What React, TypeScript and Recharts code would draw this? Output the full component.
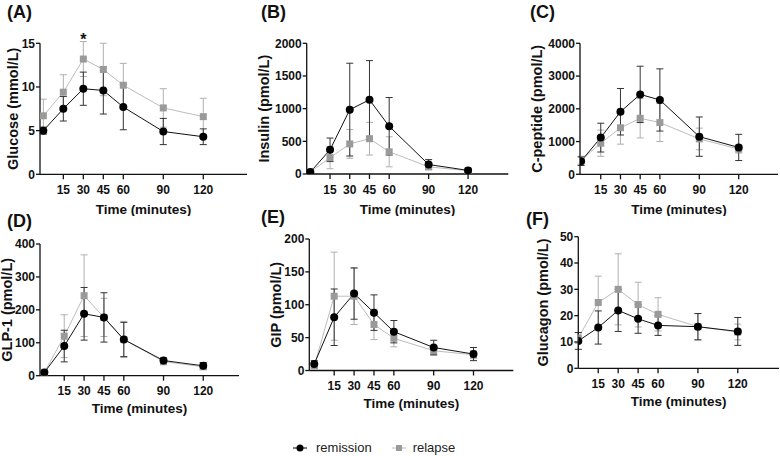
import React from "react";
import { LineChart, Line, XAxis, YAxis, ErrorBar, ReferenceDot } from "recharts";

const times = [0, 15, 30, 45, 60, 90, 120];
const timeTicks = [15, 30, 45, 60, 90, 120];

// (A) Glucose, mmol/L (mean, SD)
const glucoseRemission = [5.0, 7.5, 9.8, 9.6, 7.7, 4.9, 4.3];
const glucoseRemissionSd = [0.4, 1.4, 1.9, 2.7, 2.6, 1.5, 0.9];
const glucoseRelapse = [6.7, 9.4, 13.2, 12.0, 10.2, 7.6, 6.6];
const glucoseRelapseSd = [1.9, 2.0, 2.0, 3.0, 2.5, 2.2, 2.1];

// (B) Insulin, pmol/L
const insulinRemission = [30, 370, 985, 1135, 730, 145, 55];
const insulinRemissionSd = [15, 180, 710, 600, 440, 75, 25];
const insulinRelapse = [30, 250, 460, 540, 340, 110, 50];
const insulinRelapseSd = [15, 170, 220, 250, 230, 45, 20];

// (C) C-peptide, pmol/L
const cpepRemission = [400, 1120, 1910, 2440, 2270, 1150, 820];
const cpepRemissionSd = [130, 440, 710, 860, 950, 600, 400];
const cpepRelapse = [430, 950, 1420, 1710, 1580, 1080, 770];
const cpepRelapseSd = [120, 400, 500, 600, 580, 330, 120];

// (D) GLP-1, pmol/L
const glpRemission = [10, 90, 188, 177, 110, 46, 30];
const glpRemissionSd = [3, 48, 80, 75, 52, 8, 10];
const glpRelapse = [10, 120, 243, 177, 110, 43, 27];
const glpRelapseSd = [3, 65, 124, 58, 55, 10, 8];

// (E) GIP, pmol/L
const gipRemission = [10, 81, 117, 88, 59, 35, 25];
const gipRemissionSd = [5, 43, 39, 27, 17, 11, 10];
const gipRelapse = [7, 113, 113, 70, 49, 30, 24];
const gipRelapseSd = [4, 67, 43, 23, 13, 7, 6];

// (F) Glucagon, pmol/L
const glucagonRemission = [10.4, 15.5, 22, 18.8, 16.3, 15.8, 14];
const glucagonRemissionSd = [3.2, 6.3, 8, 5.5, 3.8, 5, 5.3];
const glucagonRelapse = [11.5, 25, 30, 24.2, 20.5, 15.8, 13.8];
const glucagonRelapseSd = [2, 10, 13.5, 8.5, 6.3, 5, 3];

const FONT = '"Liberation Sans", Arial, sans-serif';
const INK = "#111";
const GRAY_DOT = "#9a9a9a";
const GRAY_LINE = "#bcbcbc";
const GRAY_ERR = "#b0b0b0";

const panels = [
  {
    tag: "(A)", tagX: 7, tagY: 12,
    title: "Glucose (mmol/L)", titleX: 12.5,
    rem: glucoseRemission, remSd: glucoseRemissionSd, rel: glucoseRelapse, relSd: glucoseRelapseSd,
    yTicks: [0, 5, 10, 15],
    left: 0, top: 0, plotLeft: 40, plotRight: 247, plotTop: 43.3, plotBottom: 174.3,
    xDomain: [-2.5, 152.8], xTitleOffset: 0, star: true,
  },
  {
    tag: "(B)", tagX: 261, tagY: 12,
    title: "Insulin (pmol/L)", titleX: 264,
    rem: insulinRemission, remSd: insulinRemissionSd, rel: insulinRelapse, relSd: insulinRelapseSd,
    yTicks: [0, 500, 1000, 1500, 2000],
    left: 255, top: 0, plotLeft: 306.7, plotRight: 508.3, plotTop: 43.3, plotBottom: 174,
    xDomain: [-2.75, 150.6], xTitleOffset: 0,
  },
  {
    tag: "(C)", tagX: 530, tagY: 12,
    title: "C-peptide (pmol/L)", titleX: 536.7,
    rem: cpepRemission, remSd: cpepRemissionSd, rel: cpepRelapse, relSd: cpepRelapseSd,
    yTicks: [0, 1000, 2000, 3000, 4000],
    left: 520, top: 0, plotLeft: 580, plotRight: 778, plotTop: 43.3, plotBottom: 174.3,
    xDomain: [-0.8, 149.9], xTitleOffset: 0,
  },
  {
    tag: "(D)", tagX: 7, tagY: 221,
    title: "GLP-1 (pmol/L)", titleX: 6.5,
    rem: glpRemission, remSd: glpRemissionSd, rel: glpRelapse, relSd: glpRelapseSd,
    yTicks: [0, 100, 200, 300, 400],
    left: 0, top: 228, plotLeft: 40, plotRight: 239, plotTop: 244, plotBottom: 375.7,
    xDomain: [-3.3, 147], xTitleOffset: 3,
  },
  {
    tag: "(E)", tagX: 261, tagY: 217,
    title: "GIP (pmol/L)", titleX: 276,
    rem: gipRemission, remSd: gipRemissionSd, rel: gipRelapse, relSd: gipRelapseSd,
    yTicks: [0, 50, 100, 150, 200],
    left: 255, top: 228, plotLeft: 309.3, plotRight: 513.3, plotTop: 239, plotBottom: 370.5,
    xDomain: [-3.75, 150], xTitleOffset: 2,
  },
  {
    tag: "(F)", tagX: 526, tagY: 219,
    title: "Glucagon (pmol/L)", titleX: 543,
    rem: glucagonRemission, remSd: glucagonRemissionSd, rel: glucagonRelapse, relSd: glucagonRelapseSd,
    yTicks: [0, 10, 20, 30, 40, 50],
    left: 520, top: 228, plotLeft: 578.3, plotRight: 779, plotTop: 236.7, plotBottom: 368.3,
    xDomain: [0, 151], xTitleOffset: 2,
  },
];

const SquareDot = (props: any) => {
  const { cx, cy, index } = props;
  if (cx == null || cy == null) return <g key={`sq-${index}`} />;
  return <rect key={`sq-${index}`} x={cx - 3.5} y={cy - 3.5} width={7} height={7} fill={GRAY_DOT} />;
};

function Panel({ p }: { p: any }) {
  const data = times.map((t, i) => ({
    t,
    rem: p.rem[i],
    remErr: p.remSd[i],
    rel: p.rel[i],
    relErr: p.relSd[i],
  }));
  const width = p.plotRight - p.left + 3;
  const height = p.plotBottom - p.top + 42;
  const tickStyle = { fill: INK, fontSize: 12, fontWeight: 700, fontFamily: FONT };
  const yMax = p.yTicks[p.yTicks.length - 1];

  return (
    <div style={{ position: "absolute", left: p.left, top: p.top }}>
      <LineChart
        width={width}
        height={height}
        data={data}
        margin={{ top: p.plotTop - p.top, right: 3, left: 0, bottom: 2 }}
      >
        <XAxis
          type="number"
          dataKey="t"
          domain={p.xDomain}
          ticks={timeTicks}
          allowDataOverflow
          height={40}
          tickSize={5}
          tickMargin={6}
          stroke={INK}
          strokeWidth={1.3}
          tick={tickStyle}
          label={{
            value: "Time (minutes)",
            position: "insideBottom",
            offset: p.xTitleOffset,
            fill: INK,
            fontSize: 13.5,
            fontWeight: 700,
            fontFamily: FONT,
          }}
        />
        <YAxis
          type="number"
          domain={[0, yMax]}
          ticks={p.yTicks}
          allowDataOverflow
          width={p.plotLeft - p.left}
          tickSize={4}
          tickMargin={1}
          stroke={INK}
          strokeWidth={1.3}
          tick={tickStyle}
          label={{
            value: p.title,
            angle: -90,
            position: "insideLeft",
            offset: p.titleX - p.left,
            fill: INK,
            fontSize: 14.5,
            fontWeight: 700,
            fontFamily: FONT,
            style: { textAnchor: "middle" },
          }}
        />
        <Line
          dataKey="rel"
          stroke={GRAY_LINE}
          strokeWidth={1}
          dot={SquareDot}
          isAnimationActive={false}
        >
          <ErrorBar dataKey="relErr" width={3.5} stroke={GRAY_ERR} strokeWidth={1} isAnimationActive={false} />
        </Line>
        <Line
          dataKey="rem"
          stroke={INK}
          strokeWidth={1}
          dot={{ r: 4, fill: "#000", stroke: "#000", strokeWidth: 0 }}
          isAnimationActive={false}
        >
          <ErrorBar dataKey="remErr" width={3.5} stroke="#333" strokeWidth={1} isAnimationActive={false} />
        </Line>
        {p.star && (
          <ReferenceDot
            x={30}
            y={yMax + 0.45}
            r={0}
            ifOverflow="visible"
            label={{ value: "*", position: "center", fill: INK, fontSize: 16, fontWeight: 700, fontFamily: FONT }}
          />
        )}
      </LineChart>
    </div>
  );
}

function Legend() {
  return (
    <div
      style={{
        position: "absolute",
        left: 290,
        top: 440,
        display: "flex",
        alignItems: "center",
        fontFamily: FONT,
        fontSize: 13,
        color: "#222",
      }}
    >
      <svg width={20} height={10}>
        <line x1={3} y1={5} x2={17} y2={5} stroke="#000" strokeWidth={1} />
        <circle cx={10} cy={5} r={3.5} fill="#000" />
      </svg>
      <span style={{ marginLeft: 6, marginRight: 17 }}>remission</span>
      <svg width={20} height={10}>
        <line x1={3} y1={5} x2={17} y2={5} stroke={GRAY_LINE} strokeWidth={1} />
        <rect x={7} y={2} width={6} height={6} fill={GRAY_DOT} />
      </svg>
      <span style={{ marginLeft: 4 }}>relapse</span>
    </div>
  );
}

export default function App() {
  return (
    <div
      style={{
        position: "absolute",
        left: 0,
        top: 0,
        width: 780,
        height: 456,
        overflow: "hidden",
        background: "#fff",
        fontFamily: FONT,
      }}
    >
      {panels.map((p) => (
        <Panel key={p.tag} p={p} />
      ))}
      {panels.map((p) => (
        <div
          key={`tag-${p.tag}`}
          style={{
            position: "absolute",
            left: p.tagX,
            top: p.tagY - 10,
            fontSize: 18,
            fontWeight: 700,
            lineHeight: "20px",
            color: INK,
          }}
        >
          {p.tag}
        </div>
      ))}
      <Legend />
    </div>
  );
}
